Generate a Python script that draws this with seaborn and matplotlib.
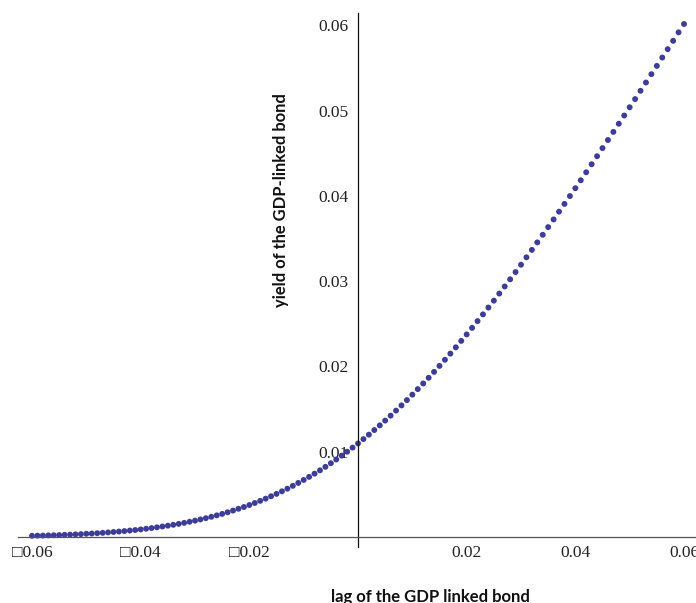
import matplotlib
matplotlib.use("Agg")
import matplotlib.pyplot as plt
import matplotlib.ticker as mticker
import seaborn as sns
import pandas as pd

# ---- data ----
lag = [-0.060, -0.059, -0.058, -0.057, -0.056, -0.055, -0.054, -0.053, -0.052, -0.051,
       -0.050, -0.049, -0.048, -0.047, -0.046, -0.045, -0.044, -0.043, -0.042, -0.041,
       -0.040, -0.039, -0.038, -0.037, -0.036, -0.035, -0.034, -0.033, -0.032, -0.031,
       -0.030, -0.029, -0.028, -0.027, -0.026, -0.025, -0.024, -0.023, -0.022, -0.021,
       -0.020, -0.019, -0.018, -0.017, -0.016, -0.015, -0.014, -0.013, -0.012, -0.011,
       -0.010, -0.009, -0.008, -0.007, -0.006, -0.005, -0.004, -0.003, -0.002, -0.001,
       0.000,
       0.001, 0.002, 0.003, 0.004, 0.005, 0.006, 0.007, 0.008, 0.009, 0.010,
       0.011, 0.012, 0.013, 0.014, 0.015, 0.016, 0.017, 0.018, 0.019, 0.020,
       0.021, 0.022, 0.023, 0.024, 0.025, 0.026, 0.027, 0.028, 0.029, 0.030,
       0.031, 0.032, 0.033, 0.034, 0.035, 0.036, 0.037, 0.038, 0.039, 0.040,
       0.041, 0.042, 0.043, 0.044, 0.045, 0.046, 0.047, 0.048, 0.049, 0.050,
       0.051, 0.052, 0.053, 0.054, 0.055, 0.056, 0.057, 0.058, 0.059, 0.060]

yield_neg = [0.00014, 0.00016, 0.00017, 0.00019, 0.00021, 0.00023, 0.00026, 0.00028, 0.00031, 0.00034,
             0.00038, 0.00041, 0.00045, 0.00049, 0.00054, 0.00059, 0.00064, 0.00070, 0.00076, 0.00082,
             0.00089, 0.00097, 0.00105, 0.00114, 0.00123, 0.00133, 0.00143, 0.00154, 0.00166, 0.00179,
             0.00192, 0.00206, 0.00221, 0.00237, 0.00254, 0.00271, 0.00290, 0.00310, 0.00331, 0.00352,
             0.00375, 0.00399, 0.00424, 0.00450, 0.00478, 0.00506, 0.00536, 0.00567, 0.00600, 0.00634,
             0.00669, 0.00705, 0.00743, 0.00782, 0.00823, 0.00865, 0.00909, 0.00954, 0.01000, 0.01048]
yield_zero = [0.01097]
yield_pos = [0.01148, 0.01200, 0.01254, 0.01309, 0.01365, 0.01423, 0.01482, 0.01543, 0.01605, 0.01669,
             0.01734, 0.01800, 0.01867, 0.01936, 0.02006, 0.02078, 0.02150, 0.02224, 0.02299, 0.02375,
             0.02452, 0.02531, 0.02610, 0.02690, 0.02771, 0.02854, 0.02937, 0.03021, 0.03106, 0.03192,
             0.03279, 0.03366, 0.03454, 0.03543, 0.03633, 0.03723, 0.03814, 0.03905, 0.03997, 0.04089,
             0.04182, 0.04276, 0.04370, 0.04464, 0.04559, 0.04654, 0.04749, 0.04845, 0.04941, 0.05038,
             0.05134, 0.05231, 0.05328, 0.05426, 0.05523, 0.05621, 0.05719, 0.05817, 0.05916, 0.06014]
yld = yield_neg + yield_zero + yield_pos

xtick_values = [-0.06, -0.04, -0.02, 0.02, 0.04, 0.06]
xtick_labels = ["\u25a10.06", "\u25a10.04", "\u25a10.02", "0.02", "0.04", "0.06"]
ytick_values = [0.01, 0.02, 0.03, 0.04, 0.05, 0.06]
ytick_labels = ["0.01", "0.02", "0.03", "0.04", "0.05", "0.06"]

x_label = "lag of the GDP linked bond"
y_label = "yield of the GDP-linked bond"

df = pd.DataFrame({"lag": lag, "yield": yld})

# ---- style ----
sns.set_style("white")
plt.rcParams["font.family"] = ["Liberation Serif", "DejaVu Sans"]

W, H = 696, 603
fig = plt.figure(figsize=(W / 100, H / 100), dpi=100)
ax = fig.add_axes([18 / W, (H - 547) / H, (696 - 18) / W, (547 - 13) / H])

sns.scatterplot(data=df, x="lag", y="yield", ax=ax, color="#3d3d99",
                s=18, edgecolor="none", linewidth=0, legend=False, zorder=1)

ax.set_xlim(-0.06258, 0.06221)
ax.set_ylim(-0.00117, 0.06143)

for side in ("top", "right"):
    ax.spines[side].set_visible(False)
ax.spines["left"].set_position(("data", 0))
ax.spines["bottom"].set_position(("data", 0))
ax.spines["left"].set_color("#111111")
ax.spines["bottom"].set_color("#555555")
ax.spines["left"].set_linewidth(0.9)
ax.spines["bottom"].set_linewidth(0.9)

ax.xaxis.set_major_locator(mticker.FixedLocator(xtick_values))
ax.xaxis.set_major_formatter(mticker.FixedFormatter(xtick_labels))
ax.yaxis.set_major_locator(mticker.FixedLocator(ytick_values))
ax.yaxis.set_major_formatter(mticker.FixedFormatter(ytick_labels))
ax.xaxis.set_minor_locator(mticker.MultipleLocator(0.005))
ax.yaxis.set_minor_locator(mticker.MultipleLocator(0.002))

ax.tick_params(axis="x", which="major", direction="in", length=3.4, width=0.8,
               color="#333333", pad=6, labelsize=12.5, labelcolor="#222222")
ax.tick_params(axis="x", which="minor", direction="in", length=2.0, width=0.7,
               color="#333333")
ax.tick_params(axis="y", which="major", direction="in", length=3.4, width=0.8,
               color="#222222", pad=7, labelsize=12.5, labelcolor="#222222")
ax.tick_params(axis="y", which="minor", direction="in", length=2.0, width=0.7,
               color="#222222")

ax.set_xlabel("")
ax.set_ylabel("")
ax.grid(False)

fig.text(430 / W, 1 - 597 / H, x_label, ha="center", va="center",
         fontsize=12, fontweight="bold", family=["Lato", "Open Sans", "DejaVu Sans"],
         color="#111111")
fig.text(281 / W, 1 - 200 / H, y_label, ha="center", va="center", rotation=90,
         fontsize=11.9, fontweight="bold", family=["Lato", "Open Sans", "DejaVu Sans"],
         color="#111111")

fig.savefig("out.png", dpi=100)
